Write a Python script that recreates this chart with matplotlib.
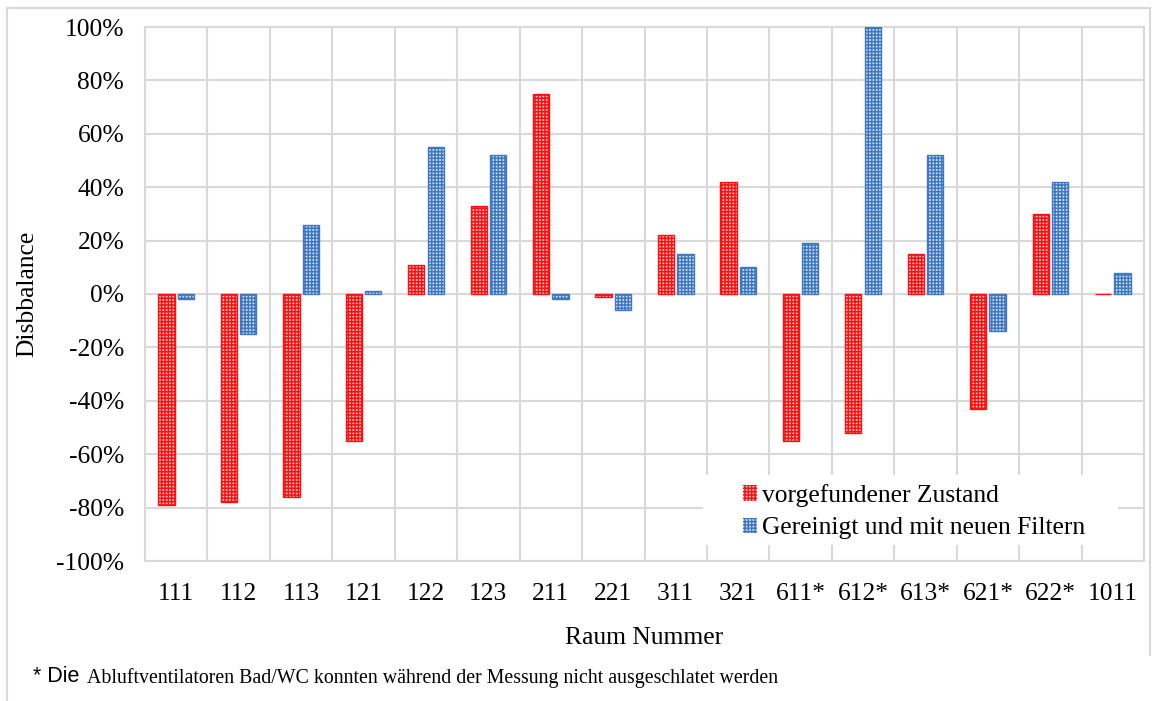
import numpy as np
import matplotlib
matplotlib.use("Agg")
from matplotlib import pyplot as plt
from matplotlib.patches import Rectangle
from matplotlib.lines import Line2D
from matplotlib.ticker import PercentFormatter

plt.rcParams['font.family'] = ['Liberation Serif', 'DejaVu Serif']
plt.rcParams['hatch.linewidth'] = 1.1
plt.rcParams['axes.unicode_minus'] = False

rooms = ['111', '112', '113', '121', '122', '123', '211', '221', '311', '321',
         '611*', '612*', '613*', '621*', '622*', '1011']
vorgefunden = [-79, -78, -76, -55, 11, 33, 75, -1, 22, 42, -55, -52, 15, -43, 30, 0]
gereinigt = [-2, -15, 26, 1, 55, 52, -2, -6, 15, 10, 19, 100, 52, -14, 42, 8]
label_red = 'vorgefundener Zustand'
label_blue = 'Gereinigt und mit neuen Filtern'
footnote_mark = '* Die'
footnote = 'Abluftventilatoren Bad/WC konnten während der Messung nicht ausgeschlatet werden'

W, H = 1153, 701
fig = plt.figure(figsize=(W / 100, H / 100), dpi=100)
ax = fig.add_axes([145 / W, 1 - 561 / H, 999 / W, 534 / H])

grid_col = '#d9d9d9'
red = '#ff1010'
blue = '#3f78c0'
x = np.arange(len(rooms))
bw = 0.26
off = 0.155

# hatched fill, then outline
ax.bar(x - off, vorgefunden, bw, facecolor='#ffcccc', edgecolor=red, hatch='+++++',
       linewidth=0, zorder=2, label=label_red)
ax.bar(x - off, vorgefunden, bw, fill=False, edgecolor=red, linewidth=1.0, zorder=3)
ax.bar(x + off, gereinigt, bw, facecolor='#d3e2f5', edgecolor=blue, hatch='+++++',
       linewidth=0, zorder=2, label=label_blue)
ax.bar(x + off, gereinigt, bw, fill=False, edgecolor=blue, linewidth=1.0, zorder=3)

ax.set_xlim(-0.5, len(rooms) - 0.5)
ax.set_ylim(-100, 100)
ax.set_yticks(np.arange(-100, 101, 20))
ax.yaxis.set_major_formatter(PercentFormatter(decimals=0))
ax.set_xticks(x)
ax.set_xticklabels(rooms)
ax.set_xticks(np.arange(-0.5, len(rooms), 1), minor=True)
ax.set_axisbelow(True)
ax.grid(axis='y', which='major', color=grid_col, linewidth=1.5)
ax.grid(axis='x', which='minor', color=grid_col, linewidth=1.5)
ax.tick_params(which='both', length=0, labelsize=18.4)
ax.tick_params(axis='y', pad=15)
ax.tick_params(axis='x', pad=16)
for s in ax.spines.values():
    s.set_color(grid_col)
    s.set_linewidth(1.5)

ax.set_xlabel('Raum Nummer', fontsize=18.4, labelpad=16)
ax.set_ylabel('Disbbalance', fontsize=18.4)
ax.yaxis.set_label_coords(-0.107, 0.5)

# white box behind the legend hides the gridlines
ax.add_patch(Rectangle((703 / W, 1 - 545 / H), 415 / W, 70 / H, transform=fig.transFigure,
                       facecolor='white', edgecolor='none', zorder=1))
leg = ax.legend(loc='upper left', bbox_to_anchor=(733 / W, 1 - 474 / H),
                bbox_transform=fig.transFigure, frameon=False, fontsize=18.4,
                handlelength=0.55, handleheight=0.55, handletextpad=0.2,
                labelspacing=0.4, borderaxespad=0)

# outer chart frame
for xs, ys in [([7, 7], [8, H]), ([7, 1149.5], [8, 8]), ([1149.5, 1149.5], [8, 655])]:
    fig.add_artist(Line2D([v / W for v in xs], [1 - v / H for v in ys],
                          transform=fig.transFigure, color=grid_col, linewidth=1.5))

fig.text(33 / W, 1 - 677 / H, footnote_mark, fontsize=15.5,
         family=['Liberation Sans', 'DejaVu Sans'], va='center')
fig.text(87 / W, 1 - 678 / H, footnote, fontsize=14.3, va='center')

fig.savefig('out.png', dpi=100)
